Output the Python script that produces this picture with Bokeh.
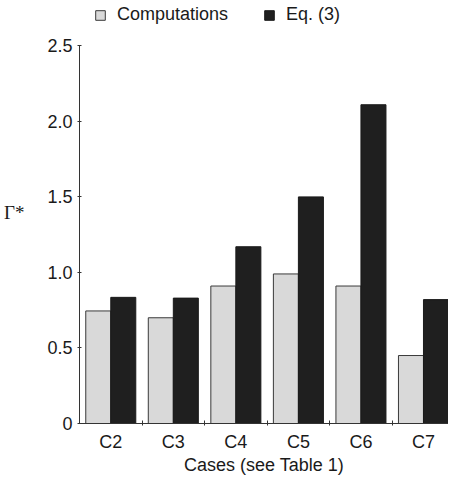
from bokeh.plotting import figure
from bokeh.models import Range1d, FixedTicker, Legend, LegendItem, ColumnDataSource
from bokeh.embed import file_html
from bokeh.resources import INLINE

cases = ["C2", "C3", "C4", "C5", "C6", "C7"]
computations = [0.745, 0.70, 0.91, 0.99, 0.91, 0.45]
eq3 = [0.835, 0.83, 1.17, 1.50, 2.11, 0.82]
series_labels = ["Computations", "Eq. (3)"]
y_ticks = [0, 0.5, 1.0, 1.5, 2.0, 2.5]
y_tick_labels = ["0", "0.5", "1.0", "1.5", "2.0", "2.5"]

FONT = "Liberation Sans"
idx = list(range(len(cases)))
src = ColumnDataSource(dict(
    xc=[i + 0.3 for i in idx], xe=[i + 0.7 for i in idx],
    comp=computations, eq=eq3, case=cases))

p = figure(width=448, height=477, output_backend="svg", toolbar_location=None,
           x_range=Range1d(0, 5.9), y_range=Range1d(0, 2.8),
           min_border_left=74, min_border_right=0, min_border_top=0,
           min_border_bottom=0)
p.background_fill_color = "white"
p.border_fill_color = "white"
p.outline_line_color = None
p.grid.visible = False

r1 = p.vbar(x="xc", top="comp", width=0.4, bottom=0, source=src,
            fill_color="#d9d9d9", line_color="#3a3a3a", line_width=1)
r2 = p.vbar(x="xe", top="eq", width=0.4, bottom=0, source=src,
            fill_color="#1f1f1f", line_color="#1a1a1a", line_width=1)

xa = p.xaxis[0]
xa.ticker = FixedTicker(ticks=[i + 0.5 for i in idx],
                        minor_ticks=[float(i) for i in idx[1:]])
xa.major_label_overrides = {i + 0.5: c for i, c in zip(idx, cases)}
xa.major_tick_line_color = None
xa.major_tick_in = 0
xa.major_tick_out = 0
xa.minor_tick_in = 3
xa.minor_tick_out = 2
xa.minor_tick_line_color = "#333333"
xa.axis_line_color = "#333333"
xa.major_label_text_font = FONT
xa.major_label_text_font_size = "18px"
xa.major_label_text_color = "#1a1a1a"
xa.major_label_standoff = 6
xa.axis_label = "Cases (see Table 1)"
xa.axis_label_text_font = FONT
xa.axis_label_text_font_size = "18px"
xa.axis_label_text_font_style = "normal"
xa.axis_label_text_color = "#1a1a1a"
xa.axis_label_standoff = 0

ya = p.yaxis[0]
ya.bounds = (0, 2.5)
ya.ticker = FixedTicker(ticks=y_ticks, minor_ticks=[])
ya.major_label_overrides = {t: l for t, l in zip(y_ticks, y_tick_labels)}
ya.major_tick_in = 2
ya.major_tick_out = 2
ya.major_tick_line_color = "#333333"
ya.axis_line_color = "#333333"
ya.major_label_text_font = FONT
ya.major_label_text_font_size = "18px"
ya.major_label_text_color = "#1a1a1a"
ya.major_label_standoff = 5
ya.axis_label = "Γ*"
ya.axis_label_orientation = "horizontal"
ya.axis_label_text_font = "Liberation Serif"
ya.axis_label_text_font_size = "19px"
ya.axis_label_text_font_style = "normal"
ya.axis_label_text_color = "#1a1a1a"
ya.axis_label_standoff = 20

legend = Legend(items=[LegendItem(label=series_labels[0], renderers=[r1]),
                       LegendItem(label=series_labels[1], renderers=[r2])],
                orientation="horizontal", location=(15, 398))
legend.label_text_font = FONT
legend.label_text_font_size = "18px"
legend.label_text_color = "#1a1a1a"
legend.glyph_width = 12
legend.glyph_height = 12
legend.label_standoff = 11
legend.spacing = 35
legend.padding = 0
legend.margin = 0
legend.border_line_color = None
legend.background_fill_alpha = 0
p.add_layout(legend)

open("out.html", "w").write(file_html(p, INLINE))
